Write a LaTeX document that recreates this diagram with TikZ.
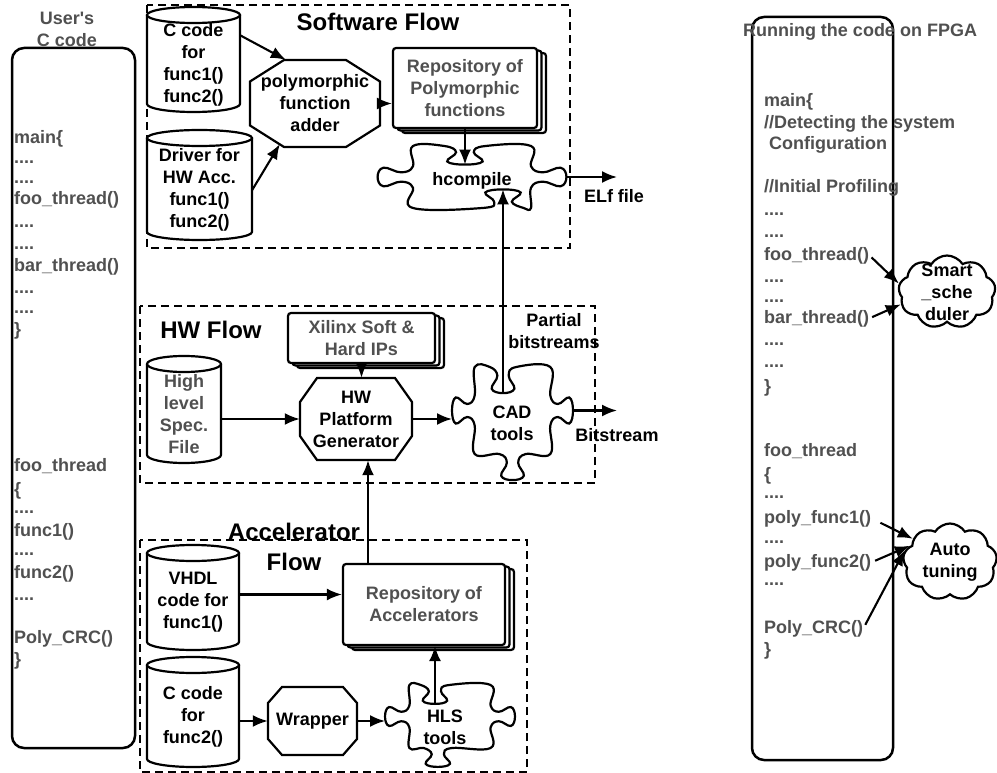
\documentclass[tikz,border=0pt]{standalone}
\usepackage{fontspec}
\setmainfont{Liberation Sans}
\usetikzlibrary{arrows.meta,shapes.symbols,shadows}
\definecolor{codegray}{RGB}{80,80,80}
\tikzset{
  base/.style={font=\bfseries\fontsize{18}{22}\selectfont, align=center, inner sep=0pt},
  title/.style={font=\bfseries\fontsize{24}{30}\selectfont, align=center, inner sep=0pt},
  code/.style={font=\bfseries\fontsize{18}{22}\selectfont, text=codegray, anchor=base west, inner sep=0pt},
  shapeline/.style={line width=2.2pt, draw=black},
  arr/.style={line width=2.1pt, -{Latex[length=15pt,width=12pt]}},
  dashbox/.style={line width=1.6pt, dash pattern=on 8pt off 5pt},
  stackbox/.style={shapeline, rounded corners=3pt, fill=white,
     double copy shadow={shadow xshift=4.5pt, shadow yshift=-2.5pt, draw=black, fill=white, line width=2.2pt},
     base, text=codegray},
  cloudnode/.style={cloud, cloud puffs=9, cloud puff arc=115, cloud ignores aspect, draw, line width=2.2pt, fill=white, inner sep=0pt},
  codebox/.style={line width=2.5pt, rounded corners=12pt},
}
% cylinder: name, x1, y1, x2, y2, text, extra style
\newcommand\cyl[7]{%
  \pgfmathsetmacro\cylc{(#2+#4)/2}\pgfmathsetmacro\cylr{(#4-#2)/2}%
  \draw[shapeline, fill=white] (#2,{#3+8}) -- (#2,{#5-8})
     .. controls (#2,{#5-8+4.42}) and ({\cylc-0.552*\cylr},#5) .. (\cylc,#5)
     .. controls ({\cylc+0.552*\cylr},#5) and (#4,{#5-8+4.42}) .. (#4,{#5-8}) -- (#4,{#3+8});
  \draw[shapeline, fill=white] (\cylc,{#3+8}) ellipse [x radius=\cylr pt, y radius=8pt];
  \node[base,#7, minimum width={#4-#2}, minimum height={#5-#3-10}] (#1) at (\cylc,{(#3+#5)/2+5}) {#6};
}
% octagon: name, x1, y1, x2, y2, cut x, cut y, text
\newcommand\octo[8]{%
  \draw[shapeline, fill=white] ({#2+#6},#3) -- ({#4-#6},#3) -- (#4,{#3+#7}) -- (#4,{#5-#7})
     -- ({#4-#6},#5) -- ({#2+#6},#5) -- (#2,{#5-#7}) -- (#2,{#3+#7}) -- cycle;
  \node[base, minimum width={#4-#2}, minimum height={#5-#3}] (#1) at ({(#2+#4)/2},{(#3+#5)/2}) {#8};
}
% puzzle piece: cx, cy, rx, ry, top, right, bottom, left (+1 out, -1 in); \ju top knob pos, \jv bottom knob pos
\newcommand\jig[8]{%
  \begin{scope}[shift={(#1,#2)}, xscale=#3, yscale=#4]
  \draw[line width=2.2pt, fill=white] plot[smooth cycle, tension=0.7] coordinates {
   (-1,-1) ({\ju-0.35},-1) ({\ju-0.15},{-1-0.2*#5}) ({\ju-0.3},{-1-0.5*#5}) (\ju,{-1-0.6*#5}) ({\ju+0.3},{-1-0.5*#5}) ({\ju+0.15},{-1-0.2*#5}) ({\ju+0.35},-1)
   (1,-1) (1,-0.35) ({1+0.2*#6},-0.15) ({1+0.5*#6},-0.3) ({1+0.6*#6},0) ({1+0.5*#6},0.3) ({1+0.2*#6},0.15) (1,0.35)
   (1,1) ({\jv+0.35},1) ({\jv+0.15},{1+0.2*#7}) ({\jv+0.3},{1+0.5*#7}) (\jv,{1+0.6*#7}) ({\jv-0.3},{1+0.5*#7}) ({\jv-0.15},{1+0.2*#7}) ({\jv-0.35},1)
   (-1,1) (-1,0.35) ({-1-0.2*#8},0.15) ({-1-0.5*#8},0.3) ({-1-0.6*#8},0) ({-1-0.5*#8},-0.3) ({-1-0.2*#8},-0.15) (-1,-0.35)
  };
  \end{scope}
}
\newcommand\cl[3]{\node[code] at (#1,#2) {#3};}
\begin{document}
\begin{tikzpicture}[x=1pt,y=-1pt]
\useasboundingbox (0,0) rectangle (997,773);
% dashed frames
\draw[dashbox] (147,5) rectangle (570,248);
\draw[dashbox] (140,306) rectangle (595,483);
\draw[dashbox] (140,540) rectangle (527,772);
% code boxes
\draw[codebox] (12,48) rectangle (135,748);
\draw[codebox] (752,17) rectangle (893,760);
\node[base,text=codegray] (ucode) at (67,29) {User\textquotesingle s\\C code};
\node[base,text=codegray] (fpga) at (860,32) {Running the code on FPGA};
% left code
\cl{14}{144}{main\{}
\cl{14}{164}{....}
\cl{14}{184}{....}
\cl{14}{205}{foo\_thread()}
\cl{14}{228}{....}
\cl{14}{249}{....}
\cl{14}{271}{bar\_thread()}
\cl{14}{293}{....}
\cl{14}{313}{....}
\cl{14}{335}{\}}
\cl{14}{471}{foo\_thread}
\cl{14}{495}{\{}
\cl{14}{513}{....}
\cl{14}{536}{func1()}
\cl{14}{555}{....}
\cl{14}{578}{func2()}
\cl{14}{600}{....}
\cl{14}{643}{Poly\_CRC()}
\cl{14}{665}{\}}
% right code
\cl{764}{107}{main\{}
\cl{764}{129}{//Detecting the system}
\cl{769}{150}{Configuration}
\cl{764}{193}{//Initial Profiling}
\cl{764}{215}{....}
\cl{764}{237}{....}
\node[code] (rfoo) at (764,260) {foo\_thread()};
\cl{764}{282}{....}
\cl{764}{302}{....}
\node[code] (rbar) at (764,323) {bar\_thread()};
\cl{764}{345}{....}
\cl{764}{367}{....}
\cl{764}{392}{\}}
\cl{764}{456}{foo\_thread}
\cl{764}{480}{\{}
\cl{764}{498}{....}
\node[code] (rp1) at (764,523) {poly\_func1()};
\cl{764}{543}{....}
\node[code] (rp2) at (764,567) {poly\_func2()};
\cl{764}{585}{....}
\node[code] (rcrc) at (764,633) {Poly\_CRC()};
\cl{764}{655}{\}}
% clouds
\node[cloudnode, minimum width=97pt, minimum height=73pt] (smart) at (947,292) {};
\node[base] (smartt) at (smart.center) {Smart\\\_sche\\duler};
\node[cloudnode, minimum width=94pt, minimum height=77pt] (auto) at (950,562) {};
\node[base] (autot) at (auto.center) {Auto\\tuning};
\draw[arr, shorten <=3pt] (rfoo.east) -- (smart.170);
\draw[arr, shorten <=3pt] (rbar.east) -- (smart.195);
\draw[arr, shorten <=10pt] (rp1.east) -- (auto.148);
\draw[arr, shorten <=4pt] (rp2.east) -- (auto.158);
\draw[arr, shorten <=4pt] (rcrc.east) -- (auto.166);
% titles
\node[title] (swt) at (378,22) {Software Flow};
\node[title] (hwt) at (211,330) {HW Flow};
\node[title] (acct) at (294,547) {Accelerator\\Flow};
% software flow
\cyl{sw1}{147}{7}{240}{112}{C code\\for\\func1()\\func2()}{}
\cyl{sw2}{147}{130}{252}{240}{Driver for\\HW Acc.\\func1()\\func2()}{}
\octo{poly}{250}{60}{380}{147}{34}{21.5}{polymorphic\\function\\adder}
\node[stackbox, minimum width=144pt, minimum height=80pt] (repoP) at (465,88) {Repository of\\Polymorphic\\functions};
\def\ju{-0.12}\def\jv{0.525}
\jig{472}{177}{59}{31}{-1}{1}{-1}{1}
\node[base, minimum width=118pt, minimum height=62pt] (hc) at (472,181) {hcompile};
\coordinate (hcN) at (465,164.6);
\coordinate (hcS) at (503,189.4);
\coordinate (hcR) at (566.4,177);
\coordinate (elf) at (617,177);
\node[base] (elft) at (614,196) {ELf file};
% HW flow
\node[stackbox, minimum width=147pt, minimum height=50pt] (xil) at (361.5,338) {Xilinx Soft \&\\Hard IPs};
\cyl{spec}{147}{356}{221}{463}{High\\level\\Spec.\\File}{text=codegray}
\octo{hwp}{300}{378}{412}{460}{17}{24}{HW\\Platform\\Generator}
\def\ju{-0.25}\def\jv{0}
\jig{512.5}{410.5}{37.8}{43.5}{-1}{1}{1}{1}
\node[base, minimum width=75pt, minimum height=60pt] (cad) at (512,423) {CAD\\tools};
\coordinate (cadN) at (503,393);
\coordinate (cadL) at (452,410.5);
\coordinate (cadR) at (573,410.5);
\coordinate (bsE) at (617,410.5);
\node[base] (pbt) at (554,331) {Partial\\bitstreams};
\node[base] (bst) at (617,435) {Bitstream};
% accelerator flow
\cyl{vhdl}{147}{545}{239}{650}{VHDL\\code for\\func1()}{}
\cyl{cc2}{147}{657}{239}{767}{C code\\for\\func2()}{}
\node[stackbox, minimum width=162pt, minimum height=81pt] (repoA) at (424,604.5) {Repository of\\Accelerators};
\octo{wrap}{268}{687}{357}{755}{14}{16}{Wrapper}
\def\ju{-0.37}\def\jv{-0.3}
\jig{450}{716.5}{40.6}{31.5}{-1}{1}{1}{1}
\node[base, minimum width=80pt, minimum height=60pt] (hls) at (445,727) {HLS\\tools};
\coordinate (hlsN) at (435,704);
\coordinate (hlsL) at (385,716.5);
\coordinate (hwpS) at ([xshift=12pt]hwp.south);
% connectors
\draw[arr] (sw1.32) -- ([xshift=36pt]poly.north west);
\draw[arr] (sw2.east) -- ([xshift=30pt,yshift=3pt]poly.south west);
\draw[arr] (poly.east) -- (poly.east -| repoP.west);
\draw[arr] (repoP.south) -- (hcN);
\draw[arr] (hcR) -- (elf);
\draw[arr] (cadN) -- (hcS);
\draw[arr] (xil.south) -- (xil.south |- hwp.north);
\draw[arr] (hwp.west -| spec.east) -- (hwp.west);
\draw[arr] (hwp.east) -- (hwp.east -| cadL);
\draw[arr] (cadR) -- (bsE);
\draw[arr] (hwpS |- repoA.north) -- (hwpS);
\draw[arr] ([yshift=8pt]vhdl.east) -- ([yshift=8pt]vhdl.east -| repoA.west);
\draw[arr] (hlsN) -- (hlsN |- repoA.south);
\draw[arr] (wrap.west -| cc2.east) -- (wrap.west);
\draw[arr] (wrap.east) -- (wrap.east -| hlsL);
\end{tikzpicture}
\end{document}
